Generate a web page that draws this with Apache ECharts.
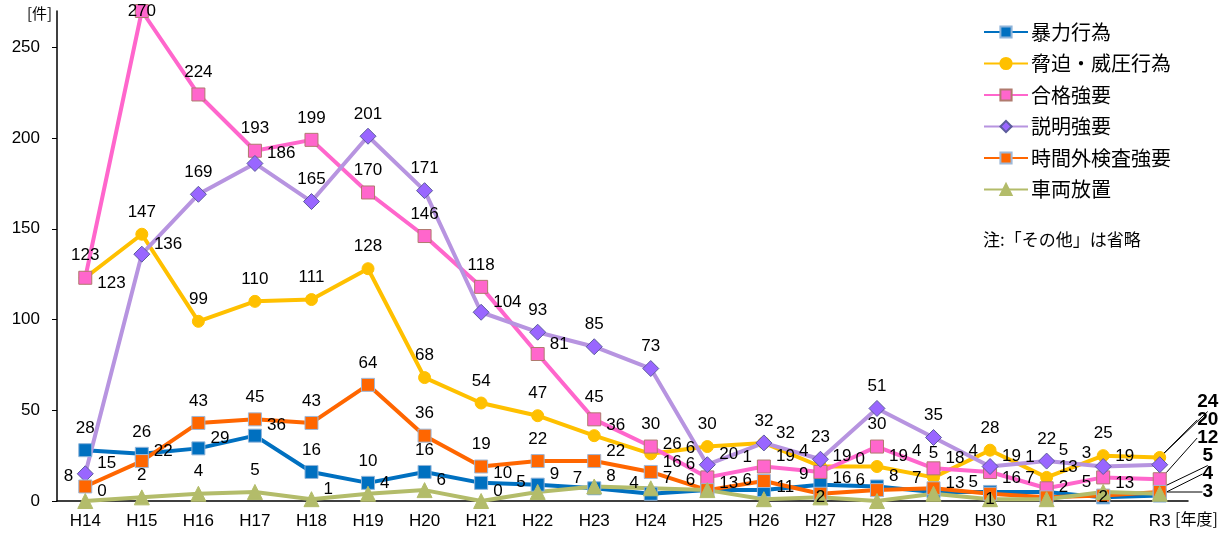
<!DOCTYPE html>
<html>
<head>
<meta charset="utf-8">
<script src="https://cdn.jsdelivr.net/npm/echarts@6/dist/echarts.min.js"></script>
<style>
html, body { margin: 0; padding: 0; background: #fff; }
#main { width: 1226px; height: 538px; }
</style>
</head>
<body>
<div id="main"></div>
<script>
var years = ['H14', 'H15', 'H16', 'H17', 'H18', 'H19', 'H20', 'H21', 'H22', 'H23',
	'H24', 'H25', 'H26', 'H27', 'H28', 'H29', 'H30', 'R1', 'R2', 'R3'];
var yTicks = [0, 50, 100, 150, 200, 250];

var bouryoku = [28, 26, 29, 36, 16, 10, 16, 10, 9, 7, 4, 6, 6, 9, 8, 5, 5, 5, 2, 3];
var kyouhaku = [123, 147, 99, 110, 111, 128, 68, 54, 47, 36, 26, 30, 32, 19, 19, 13, 28, 13, 25, 24];
var goukaku = [123, 270, 224, 193, 199, 170, 146, 118, 81, 45, 30, 13, 19, 16, 30, 18, 16, 7, 13, 12];
var setsumei = [15, 136, 169, 186, 165, 201, 171, 104, 93, 85, 73, 20, 32, 23, 51, 35, 19, 22, 19, 20];
var jikangai = [8, 22, 43, 45, 43, 64, 36, 19, 22, 22, 16, 6, 11, 4, 6, 7, 4, 2, 3, 5];
var houchi = [0, 2, 4, 5, 1, 4, 6, 0, 5, 8, 7, 6, 1, 2, 0, 4, 1, 1, 5, 4];

var Y_MAX = 270;
var FONT = "'Liberation Sans', 'Noto Sans CJK JP', sans-serif";
var JP = "'Noto Sans CJK JP', sans-serif";

var seriesDefs = [
	{ name: '暴力行為', data: bouryoku, line: '#0070C0', symbol: 'rect', size: 13, fill: '#0070C0', border: '#8FB4D9' },
	{ name: '脅迫・威圧行為', data: kyouhaku, line: '#FFC000', symbol: 'circle', size: 12, fill: '#FFC000', border: '#FFC000' },
	{ name: '合格強要', data: goukaku, line: '#FF66CC', symbol: 'rect', size: 13, fill: '#FF66CC', border: '#B07A6E' },
	{ name: '説明強要', data: setsumei, line: '#B794E0', symbol: 'diamond', size: 16, fill: '#9966FF', border: '#5C5C9C' },
	{ name: '時間外検査強要', data: jikangai, line: '#FF6600', symbol: 'rect', size: 13, fill: '#FF6600', border: '#9DB8D8' },
	{ name: '車両放置', data: houchi, line: '#B3BC6A', symbol: 'triangle', size: 15, fill: '#B3BC6A', border: '#B3BC6A' }
];
var last = years.length - 1;

function makeSeries(d, offsets) {
	return {
		name: d.name,
		type: 'line',
		data: d.data.map(function (v, i) {
			var item = { value: v, label: { position: 'inside' } };
			if (i === last) {
				item.label.fontWeight = 'bold';
				item.label.fontSize = 19;
				item.labelLine = { show: true };
			}
			return item;
		}),
		symbol: d.symbol,
		symbolSize: d.size,
		showAllSymbol: true,
		lineStyle: { color: d.line, width: 4 },
		itemStyle: { color: d.fill, borderColor: d.border, borderWidth: 1 },
		label: { show: true, color: '#000', fontSize: 17, fontFamily: FONT },
		labelLine: { show: false, lineStyle: { color: '#000', width: 1 } },
		labelLayout: function (params) {
			var o = offsets ? offsets[params.dataIndex] : [0, -22];
			return { dx: o[0], dy: o[1] };
		},
		emphasis: { disabled: true }
	};
}

var myChart = echarts.init(document.getElementById('main'));
var option = {
	animation: false,
	textStyle: { fontFamily: FONT },
	grid: { left: 57, right: 38, top: 11, bottom: 37 },
	legend: {
		orient: 'vertical',
		left: 983,
		top: 22,
		padding: 0,
		itemWidth: 44,
		itemHeight: 14,
		itemGap: 11.5,
		textStyle: { fontSize: 20, color: '#000', fontFamily: JP, lineHeight: 20, padding: [0, 0, 0, -2] },
		data: seriesDefs.map(function (d) { return d.name; })
	},
	graphic: [
		{ type: 'text', left: 27, top: 6, style: { text: '[件]', fontSize: 15, fill: '#000', fontFamily: JP } },
		{ type: 'text', left: 1175, top: 511, style: { text: '[年度]', fontSize: 16, fill: '#000', fontFamily: JP } },
		{ type: 'text', left: 983, top: 231, style: { text: '注:「その他」は省略', fontSize: 17, fill: '#000', fontFamily: JP } }
	],
	xAxis: {
		type: 'category',
		data: years,
		axisLine: { lineStyle: { color: '#000', width: 1.5 } },
		axisTick: { inside: true, length: 5, lineStyle: { color: '#000' } },
		axisLabel: { color: '#000', fontSize: 17, margin: 12 }
	},
	yAxis: {
		type: 'value',
		min: 0,
		max: Y_MAX,
		splitLine: { show: false },
		axisLine: { show: true, lineStyle: { color: '#000', width: 1.5 } },
		axisTick: { show: true, length: 5, customValues: yTicks, lineStyle: { color: '#000' } },
		axisLabel: { color: '#000', fontSize: 17, margin: 17, customValues: yTicks }
	},
	series: seriesDefs.map(function (d) { return makeSeries(d, null); })
};
myChart.setOption(option);

// ラベルの重なりを避ける配置（上 → 右 → 左 → さらに上 の順に空きを探す）
var placed = [];
var offsets = seriesDefs.map(function () { return []; });
function hit(r) {
	if (r.y < 0 || r.y + r.h > 500) return true;
	for (var k = 0; k < placed.length; k++) {
		var q = placed[k];
		if (r.x < q.x + q.w && q.x < r.x + r.w && r.y < q.y + q.h && q.y < r.y + r.h) return true;
	}
	return false;
}
seriesDefs.forEach(function (d) {
	d.data.forEach(function (v, i) {
		var p = myChart.convertToPixel({ gridIndex: 0 }, [i, v]);
		placed.push({ x: p[0] - 6, y: p[1] - 6, w: 12, h: 12 });
	});
});
years.forEach(function (yr, i) {
	var order = seriesDefs.map(function (d, s) { return s; });
	order.sort(function (a, b) { return seriesDefs[b].data[i] - seriesDefs[a].data[i]; });
	if (i === last) {
		// R3 は右側に下から積み上げ、引出線を付ける
		var prevY = 492 + 18;
		order.slice().reverse().forEach(function (s) {
			var p = myChart.convertToPixel({ gridIndex: 0 }, [i, seriesDefs[s].data[i]]);
			var y = Math.min(p[1], prevY - 18);
			prevY = y;
			offsets[s][i] = [48, y - p[1]];
		});
		return;
	}
	order.forEach(function (s) {
		var v = seriesDefs[s].data[i];
		var p = myChart.convertToPixel({ gridIndex: 0 }, [i, v]);
		var w = String(v).length * 9.5 + 2;
		var h = 16;
		var side = w / 2 + 11;
		var cands = [[0, -22], [side, -10], [-side, -10], [side, 6], [-side, 6],
			[0, -39], [side, -26], [-side, -26], [0, -56], [side, -42], [-side, -42], [0, 0]];
		if (p[1] < 25) cands.unshift([0, 0]);
		var pick = cands[cands.length - 1];
		for (var c = 0; c < cands.length; c++) {
			var r = { x: p[0] + cands[c][0] - w / 2, y: p[1] + cands[c][1] - h / 2, w: w, h: h };
			if (!hit(r) || (cands[c][0] === 0 && cands[c][1] === 0)) { pick = cands[c]; break; }
		}
		placed.push({ x: p[0] + pick[0] - w / 2, y: p[1] + pick[1] - h / 2, w: w, h: h });
		offsets[s][i] = pick;
	});
});
myChart.setOption({ series: seriesDefs.map(function (d, s) { return makeSeries(d, offsets[s]); }) });
</script>
</body>
</html>
